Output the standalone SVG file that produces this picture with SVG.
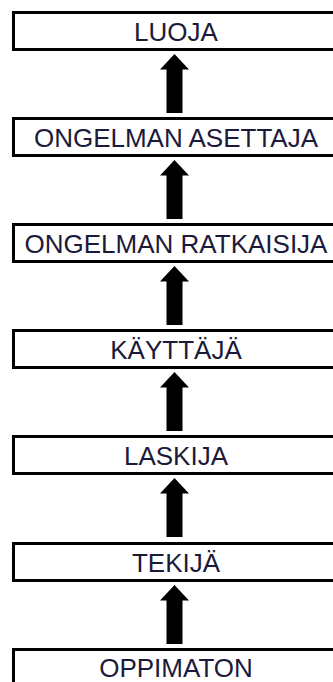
<svg xmlns="http://www.w3.org/2000/svg" xmlns:xlink="http://www.w3.org/1999/xlink" width="333" height="682" viewBox="0 0 333 682">
  <style>
    .box { fill: #ffffff; stroke: #000000; stroke-width: 3; }
    .label { font-family: "Liberation Sans", Arial, sans-serif; font-size: 26px; fill: #1c1a3a; text-anchor: middle; }
    .arrow { fill: #000000; }
  </style>
  <defs>
    <!-- block arrow pointing up, tip at y=0 -->
    <path id="up" class="arrow" d="M174.5,0 L189,15.5 L182.5,15.5 L182.5,59 L166.5,59 L166.5,15.5 L160,15.5 Z"/>
  </defs>
  <rect width="333" height="682" fill="#ffffff"/>

  <g id="connectors">
    <use xlink:href="#up" x="0" y="54"/>
    <use xlink:href="#up" x="0" y="160"/>
    <use xlink:href="#up" x="0" y="266"/>
    <use xlink:href="#up" x="0" y="372"/>
    <use xlink:href="#up" x="0" y="478"/>
    <use xlink:href="#up" x="0" y="585"/>
  </g>

  <g id="luoja">
    <rect class="box" x="13.5" y="12.5" width="340" height="37"/>
    <text class="label" x="176" y="41">LUOJA</text>
  </g>
  <g id="ongelman-asettaja">
    <rect class="box" x="13.5" y="118.5" width="340" height="37"/>
    <text class="label" x="176" y="147">ONGELMAN ASETTAJA</text>
  </g>
  <g id="ongelman-ratkaisija">
    <rect class="box" x="13.5" y="224.5" width="340" height="37"/>
    <text class="label" x="176" y="253">ONGELMAN RATKAISIJA</text>
  </g>
  <g id="kayttaja">
    <rect class="box" x="13.5" y="330.5" width="340" height="37"/>
    <text class="label" x="176" y="359">KÄYTTÄJÄ</text>
  </g>
  <g id="laskija">
    <rect class="box" x="13.5" y="436.5" width="340" height="37"/>
    <text class="label" x="176" y="465">LASKIJA</text>
  </g>
  <g id="tekija">
    <rect class="box" x="13.5" y="543.5" width="340" height="37"/>
    <text class="label" x="176" y="572">TEKIJÄ</text>
  </g>
  <g id="oppimaton">
    <rect class="box" x="13.5" y="649.5" width="340" height="37"/>
    <text class="label" x="176" y="676.5">OPPIMATON</text>
  </g>
</svg>
